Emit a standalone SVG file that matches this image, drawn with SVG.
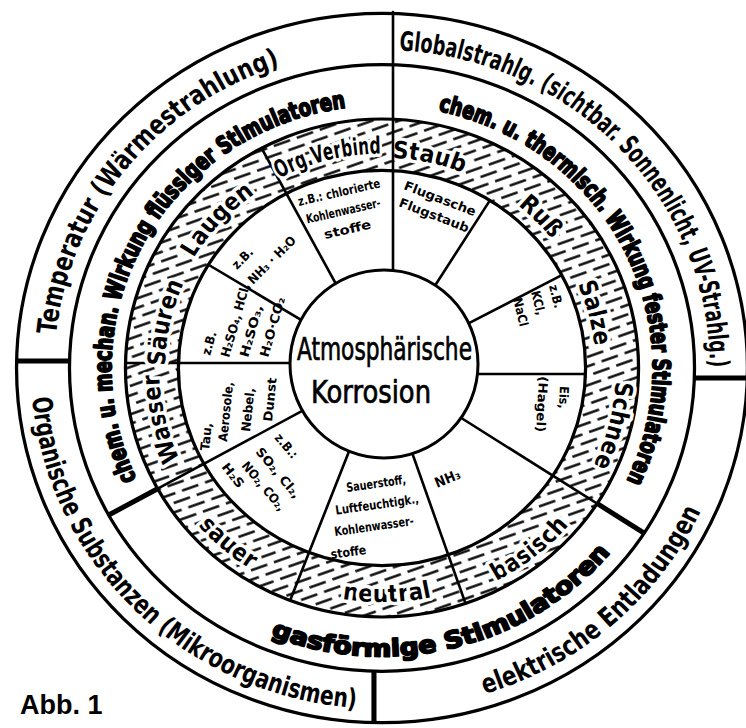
<svg xmlns="http://www.w3.org/2000/svg" width="746" height="728" viewBox="0 0 746 728">
<defs>
<style>
.ring{fill:none;stroke:#000;stroke-width:3.2}
.div{stroke:#000;stroke-width:2.6;stroke-linecap:round}
.thick{stroke:#000;stroke-width:5}
.f{font-family:"Liberation Sans Narrow","DejaVu Sans Condensed","Liberation Sans",Arial,sans-serif;fill:#000}
.outer{font-size:27px;font-weight:bold}
.stim{font-size:24px;font-weight:bold;stroke:#000;stroke-width:1.8;stroke-linejoin:round}
.lab{font-size:24px;font-weight:bold;stroke:#fff;stroke-width:7;paint-order:stroke;stroke-linejoin:round}
.small{font-size:12.5px;font-weight:bold}
.center{font-size:32px;stroke:#000;stroke-width:0.7}
</style>
<pattern id="hatch" patternUnits="userSpaceOnUse" width="24" height="18" patternTransform="rotate(-20)">
<line x1="1" y1="4.5" x2="18" y2="4.5" stroke="#000" stroke-width="2.4"/>
<line x1="13" y1="13.5" x2="24" y2="13.5" stroke="#000" stroke-width="2.4"/>
<line x1="0" y1="13.5" x2="6" y2="13.5" stroke="#000" stroke-width="2.4"/>
</pattern>
<path id="pTemp" d="M-320.2,-33.7 A322,322 0 0,1 -94.1,-307.9"/>
<path id="pGlob" d="M16.9,-321.6 A322,322 0 0,1 322.0,5.6"/>
<path id="pElek" d="M100.9,329.9 A345,345 0 0,0 315.2,140.3"/>
<path id="pOrg" d="M-343.7,30.1 A345,345 0 0,0 -21.1,344.4"/>
<path id="pLiq" d="M-241.1,112.4 A266,266 0 0,1 -27.8,-264.5"/>
<path id="pSol" d="M55.3,-260.2 A266,266 0 0,1 237.0,120.8"/>
<path id="pGas" d="M-109.4,270.7 A292,292 0 0,0 230.1,179.8"/>
<path id="pLaugen" d="M-215.7,-10.6 A216,216 0 0,1 -27.1,-214.3"/>
<path id="pOrgV" d="M-175.6,-127.6 A217,217 0 0,1 95.1,-195.0"/>
<path id="pStaub" d="M-99.0,-188.6 A213,213 0 0,1 168.6,-130.2"/>
<path id="pRuss" d="M20.3,-211.0 A212,212 0 0,1 211.3,-16.6"/>
<path id="pSalze" d="M120.5,-172.0 A210,210 0 0,1 190.3,88.7"/>
<path id="pSchnee" d="M207.4,-99.4 A230,230 0 0,1 133.9,187.0"/>
<path id="pBasisch" d="M-7.2,242.9 A243,243 0 0,0 237.9,49.3"/>
<path id="pNeutral" d="M-148.5,184.7 A237,237 0 0,0 156.1,178.3"/>
<path id="pSauer" d="M-237.7,39.8 A241,241 0 0,0 -2.1,241.0"/>
<path id="pWasser" d="M-130.6,175.8 A219,219 0 0,1 -195.8,-98.1"/>
<path id="pSaeuren" d="M-188.4,99.3 A213,213 0 0,1 -130.5,-168.3"/>
</defs>
<rect width="746" height="728" fill="#fff"/>
<g transform="translate(382 368) scale(1.018 0.988)">
<path id="hatchring" fill="url(#hatch)" fill-rule="evenodd" d="M252,0A252,252 0 1,0 -252,0A252,252 0 1,0 252,0ZM200,0A200,200 0 1,0 -200,0A200,200 0 1,0 200,0Z"/>
<g id="rings" class="ring">
<circle r="359"/><circle r="307"/><circle r="252"/><circle r="200"/>
</g>
<g id="connectors">
<line class="div" x1="-39.9" y1="-75.0" x2="-118.3" y2="-222.5"/>
<line class="div" x1="45.0" y1="-72.1" x2="106.0" y2="-169.6"/>
<line class="div" x1="75.0" y1="-39.9" x2="176.6" y2="-93.9"/>
<line class="div" x1="85" y1="6" x2="199.9" y2="6"/>
<line class="div" x1="71.3" y1="46.3" x2="257.5" y2="167.2"/>
<line class="thick" x1="211.4" y1="137.2" x2="257.5" y2="167.2"/>
<line class="div" x1="27.7" y1="80.4" x2="82.0" y2="238.3"/>
<line class="div" x1="-30.5" y1="79.4" x2="-90.3" y2="235.3"/>
<line class="div" x1="-74.3" y1="41.2" x2="-268.5" y2="148.8"/>
<line class="thick" x1="-220.4" y1="122.2" x2="-268.5" y2="148.8"/>
<line class="div" x1="-85" y1="-5" x2="-251.9" y2="-5"/>
<line class="div" x1="-72.5" y1="-44.4" x2="-170.5" y2="-104.5"/>
<line class="thick" x1="-306.9" y1="-7.1" x2="-358.9" y2="-7.1"/>
<line class="thick" x1="306.8" y1="10.1" x2="358.9" y2="10.1"/>
<line class="thick" x1="-7.9" y1="306.9" x2="-7.9" y2="358.9"/>
</g>
<g id="outer-temperatur"><text class="f outer"><textPath href="#pTemp" textLength="370" lengthAdjust="spacingAndGlyphs">Temperatur (Wärmestrahlung)</textPath></text></g>
<g id="outer-globalstrahlung"><text class="f outer" font-size="25"><textPath href="#pGlob" textLength="488" lengthAdjust="spacingAndGlyphs">Globalstrahlg. (sichtbar. Sonnenlicht, UV-Strahlg.)</textPath></text></g>
<g id="outer-entladungen"><text class="f outer"><textPath href="#pElek" textLength="290" lengthAdjust="spacingAndGlyphs">elektrische Entladungen</textPath></text></g>
<g id="outer-organisch"><text class="f outer"><textPath href="#pOrg" textLength="486" lengthAdjust="spacingAndGlyphs">Organische Substanzen (Mikroorganismen)</textPath></text></g>
<g id="stim-fluessig"><text class="f stim"><textPath href="#pLiq" textLength="498" lengthAdjust="spacingAndGlyphs">chem. u. mechan. Wirkung flüssiger Stimulatoren</textPath></text></g>
<g id="stim-fest"><text class="f stim"><textPath href="#pSol" textLength="480" lengthAdjust="spacingAndGlyphs">chem. u. thermisch. Wirkung fester Stimulatoren</textPath></text></g>
<g id="stim-gas"><text class="f stim" font-size="28"><textPath href="#pGas" textLength="368" lengthAdjust="spacingAndGlyphs">gasförmige Stimulatoren</textPath></text></g>
<g id="lab-laugen"><text class="f lab"><textPath href="#pLaugen" startOffset="50%" text-anchor="middle">Laugen</textPath></text></g>
<g id="lab-orgverbind"><text class="f lab" font-size="22"><textPath href="#pOrgV" startOffset="50%" text-anchor="middle" textLength="104" lengthAdjust="spacingAndGlyphs">Org.Verbind</textPath></text></g>
<g id="lab-staub"><text class="f lab"><textPath href="#pStaub" startOffset="50%" text-anchor="middle">Staub</textPath></text></g>
<g id="lab-russ"><text class="f lab"><textPath href="#pRuss" startOffset="50%" text-anchor="middle">Ruß</textPath></text></g>
<g id="lab-salze"><text class="f lab"><textPath href="#pSalze" startOffset="50%" text-anchor="middle">Salze</textPath></text></g>
<g id="lab-schnee"><text class="f lab"><textPath href="#pSchnee" startOffset="50%" text-anchor="middle">Schnee</textPath></text></g>
<g id="lab-basisch"><text class="f lab"><textPath href="#pBasisch" startOffset="50%" text-anchor="middle">basisch</textPath></text></g>
<g id="lab-neutral"><text class="f lab"><textPath href="#pNeutral" startOffset="50%" text-anchor="middle">neutral</textPath></text></g>
<g id="lab-sauer"><text class="f lab"><textPath href="#pSauer" startOffset="50%" text-anchor="middle">sauer</textPath></text></g>
<g id="lab-wasser"><text class="f lab"><textPath href="#pWasser" startOffset="50%" text-anchor="middle">Wasser</textPath></text></g>
<g id="lab-saeuren"><text class="f lab" font-size="22"><textPath href="#pSaeuren" startOffset="50%" text-anchor="middle">Säuren</textPath></text></g>
</g>
<line class="div" x1="393" y1="12" x2="393" y2="272"/>
<g id="center">
<circle cx="384" cy="364" r="94" fill="#fff" stroke="#000" stroke-width="3"/>
<text class="f center" x="297" y="360" textLength="175" lengthAdjust="spacingAndGlyphs">Atmosphärische</text>
<text class="f center" x="311" y="403" font-size="30" textLength="120" lengthAdjust="spacingAndGlyphs">Korrosion</text>
</g>
<g id="sec-orgverbind" class="f small">
<g transform="translate(299 206) rotate(-13)">
<text x="0" y="0" textLength="84" lengthAdjust="spacingAndGlyphs">z.B.: chlorierte</text>
<text x="4" y="19" textLength="76" lengthAdjust="spacingAndGlyphs">Kohlenwasser-</text>
<text x="18" y="38" textLength="48" lengthAdjust="spacingAndGlyphs">stoffe</text>
</g>
</g>
<g id="sec-staub" class="f small">
<text transform="translate(403 189) rotate(21)" textLength="76" lengthAdjust="spacingAndGlyphs">Flugasche</text>
<text transform="translate(398 206) rotate(21)" textLength="74" lengthAdjust="spacingAndGlyphs">Flugstaub</text>
</g>
<g id="sec-salze" class="f small">
<text transform="translate(549 286) rotate(76)">z.B.</text>
<text transform="translate(531 292) rotate(76)">KCl,</text>
<text transform="translate(513 299) rotate(76)">NaCl</text>
</g>
<g id="sec-schnee" class="f small">
<text transform="translate(560 386) rotate(93)">Eis,</text>
<text transform="translate(539 376) rotate(93)" textLength="56" lengthAdjust="spacingAndGlyphs">(Hagel)</text>
</g>
<g id="sec-basisch" class="f small">
<text transform="translate(437 488) rotate(-22)" font-size="14">NH₃</text>
</g>
<g id="sec-neutral" class="f small">
<g transform="translate(347 492) rotate(-8)">
<text x="0" y="0" textLength="60" lengthAdjust="spacingAndGlyphs">Sauerstoff,</text>
<text x="-14" y="21" textLength="84" lengthAdjust="spacingAndGlyphs">Luftfeuchtigk.,</text>
<text x="-18" y="42" textLength="80" lengthAdjust="spacingAndGlyphs">Kohlenwasser-</text>
<text x="-25" y="64" textLength="36" lengthAdjust="spacingAndGlyphs">stoffe</text>
</g>
</g>
<g id="sec-sauer" class="f small" font-size="13.5">
<text transform="translate(274 438) rotate(50)">z.B.:</text>
<text transform="translate(255 452) rotate(50)" textLength="62" lengthAdjust="spacingAndGlyphs">SO₂, Cl₂,</text>
<text transform="translate(241 466) rotate(50)" textLength="60" lengthAdjust="spacingAndGlyphs">NO₂, CO₂,</text>
<text transform="translate(221 467) rotate(52)" textLength="28" lengthAdjust="spacingAndGlyphs">H₂S</text>
</g>
<g id="sec-wasser" class="f small">
<text transform="translate(209 451) rotate(-84)" textLength="28" lengthAdjust="spacingAndGlyphs">Tau,</text>
<text transform="translate(227 442) rotate(-84)" textLength="60" lengthAdjust="spacingAndGlyphs">Aerosole,</text>
<text transform="translate(250 432) rotate(-84)" textLength="44" lengthAdjust="spacingAndGlyphs">Nebel,</text>
<text transform="translate(272 422) rotate(-84)" textLength="44" lengthAdjust="spacingAndGlyphs">Dunst</text>
</g>
<g id="sec-saeuren" class="f small">
<text transform="translate(210 356) rotate(-74)" textLength="24" lengthAdjust="spacingAndGlyphs">z.B.</text>
<text transform="translate(229 358) rotate(-74)" textLength="76" lengthAdjust="spacingAndGlyphs">H₂SO₄, HCl,</text>
<text transform="translate(248 358) rotate(-74)" textLength="54" lengthAdjust="spacingAndGlyphs">H₂SO₃,</text>
<text transform="translate(268 358) rotate(-74)" textLength="62" lengthAdjust="spacingAndGlyphs">H₂O·CO₂</text>
</g>
<g id="sec-laugen" class="f small">
<text transform="translate(237 270) rotate(-45)" textLength="24" lengthAdjust="spacingAndGlyphs">z.B.</text>
<text transform="translate(253 285) rotate(-45)" textLength="62" lengthAdjust="spacingAndGlyphs">NH₃ · H₂O</text>
</g>
<g id="caption">
<text x="20" y="714" font-family="Liberation Sans, Arial, sans-serif" font-size="27" font-weight="bold">Abb. 1</text>
</g>
</svg>
